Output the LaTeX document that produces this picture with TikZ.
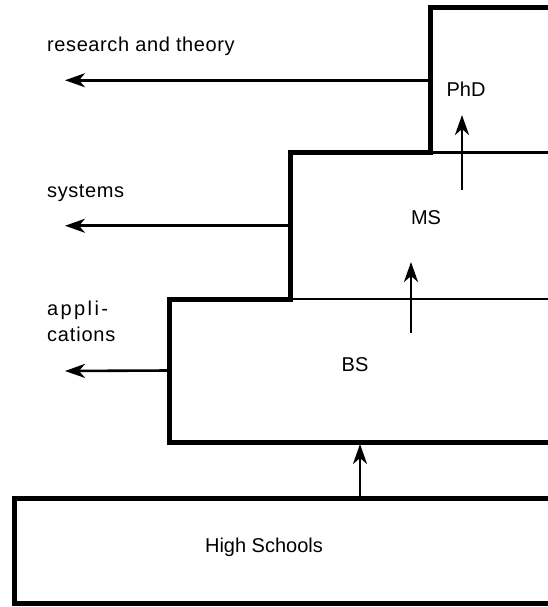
\documentclass[tikz,border=0pt]{standalone}
\usepackage{fontspec}
\setmainfont{Liberation Sans}
\usetikzlibrary{arrows.meta}
\begin{document}
\begin{tikzpicture}[x=1pt,y=-1pt,
  box/.style={draw, line width=2.6pt, inner sep=0pt, outer sep=0pt, anchor=north west},
  outline/.style={line width=5pt, line join=miter},
  arr/.style={line width=2.6pt, -{Stealth[length=20pt,width=14pt,inset=6pt]}},
  lbl/.style={inner sep=0pt, anchor=base, font=\fontsize{20}{24}\selectfont},
  side/.style={inner sep=0pt, anchor=base west, font=\fontsize{20}{24}\selectfont}]
\path[use as bounding box, clip] (0,0) rectangle (548,607);
\fill[white] (0,0) rectangle (548,607);
% boxes
\node[box, minimum width=140pt, minimum height=144.5pt] (phd) at (430,8) {};
\node[box, minimum width=280pt, minimum height=146.5pt] (ms) at (290,152.5) {};
\node[box, minimum width=401pt, minimum height=143pt] (bs) at (169,299) {};
\node[box, minimum width=556pt, minimum height=105pt] (hs) at (14,498) {};
% thick outlines
\draw[outline] (bs.south east) -- (bs.south west) -- (bs.north west) -- (ms.south west)
  -- (ms.north west) -- (phd.south west) -- (phd.north west) -- (phd.north east);
\draw[outline] (hs.north east) -- (hs.north west) -- (hs.south west) -- (hs.south east);
% labels inside boxes
\node[lbl] (tphd) at (466,97) {PhD};
\node[lbl] (tms) at (426,224) {MS};
\node[lbl] (tbs) at (355,371) {BS};
\node[lbl] (ths) at (264,552) {High Schools};
% side labels
\node[side] (tres) at (47,52) {\addfontfeature{LetterSpace=3}research and theory};
\node[side] (tsys) at (47,197) {\addfontfeature{LetterSpace=3}systems};
\node[side] (tapp1) at (47,315) {\addfontfeature{LetterSpace=12}appli-};
\node[side] (tapp2) at (47,341) {\addfontfeature{LetterSpace=4}cations};
% outgoing arrows
\coordinate (ores) at (65,80.25);
\coordinate (osys) at (65,225.75);
\coordinate (oapp) at (65,371);
\draw[arr] (phd.west) -- (ores);
\draw[arr] (ms.west) -- (osys);
\draw[arr] (bs.west) -- (oapp);
% upward arrows
\coordinate (xhs) at (360,0);
\draw[arr, shorten >=2pt] (hs.north -| xhs) -- (bs.south -| xhs);
\coordinate (a1) at (411,333);
\coordinate (a2) at (411,262);
\draw[arr] (a1) -- (a2);
\coordinate (b1) at (462,190);
\coordinate (b2) at (462,115);
\draw[arr] (b1) -- (b2);
\end{tikzpicture}
\end{document}
